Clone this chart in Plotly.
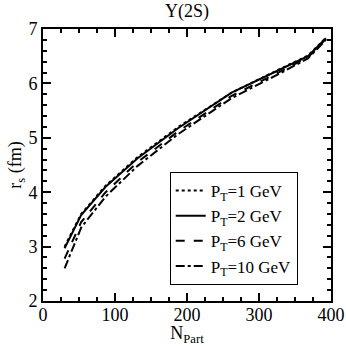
import plotly.graph_objects as go

npart = [30, 53, 87, 131, 188, 262, 330, 368, 393]
rs_pt1 = [3.00, 3.60, 4.12, 4.64, 5.20, 5.83, 6.27, 6.51, 6.84]
rs_pt2 = [2.97, 3.58, 4.10, 4.62, 5.18, 5.83, 6.26, 6.50, 6.83]
rs_pt6 = [2.78, 3.45, 4.00, 4.55, 5.12, 5.77, 6.22, 6.48, 6.82]
rs_pt10 = [2.60, 3.35, 3.92, 4.48, 5.07, 5.73, 6.19, 6.46, 6.80]

series = [
    ("P<sub>T</sub>=1 GeV", rs_pt1, "dot"),
    ("P<sub>T</sub>=2 GeV", rs_pt2, "solid"),
    ("P<sub>T</sub>=6 GeV", rs_pt6, "dash"),
    ("P<sub>T</sub>=10 GeV", rs_pt10, "dashdot"),
]

font = "Liberation Serif, Times New Roman, serif"

fig = go.Figure()
for name, ys, dash in series:
    fig.add_trace(go.Scatter(x=npart, y=ys, name=name, mode="lines",
                             line=dict(color="black", width=2, dash=dash)))

axis_common = dict(
    showgrid=False, zeroline=False, showline=True, linecolor="black", linewidth=2,
    mirror="allticks", ticks="inside", ticklen=8, tickwidth=2, tickcolor="black",
    tickfont=dict(family=font, size=18, color="black"), automargin=False,
)

fig.update_xaxes(range=[0, 400], dtick=100, ticklabelstandoff=-4,
                 title=dict(text="N<sub>Part</sub>", standoff=4,
                            font=dict(family=font, size=18, color="black")),
                 minor=dict(ticks="inside", dtick=25, ticklen=4, tickwidth=2, tickcolor="black"),
                 **axis_common)
fig.update_yaxes(range=[2, 7], dtick=1,
                 title=dict(text="r<sub>s</sub> (fm)", standoff=2,
                            font=dict(family=font, size=18, color="black")),
                 minor=dict(ticks="inside", dtick=0.2, ticklen=4, tickwidth=2, tickcolor="black"),
                 **axis_common)

fig.update_layout(
    width=346, height=346,
    margin=dict(l=43, r=15, t=29, b=45, autoexpand=False),
    plot_bgcolor="white", paper_bgcolor="white",
    title=dict(text="Υ(2S)", xref="paper", x=0.5, xanchor="center",
               yref="container", y=1 - 11 / 346, yanchor="middle",
               font=dict(family=font, size=18, color="black")),
    legend=dict(x=0.44, y=0.474, xanchor="left", yanchor="top",
                bordercolor="black", borderwidth=1, bgcolor="white",
                font=dict(family=font, size=17, color="black"), itemwidth=30,
                tracegroupgap=0),
    showlegend=True,
)

fig.write_html("out.html", config={"displayModeBar": False},
               post_script="document.body.style.margin='0';")
